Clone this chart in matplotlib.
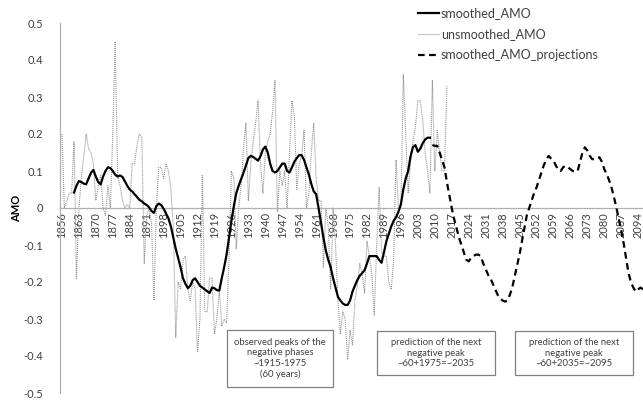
import matplotlib
matplotlib.use("Agg")
import matplotlib.pyplot as plt
from matplotlib.patches import Rectangle
import numpy as np

plt.rcParams['font.family'] = ['Lato', 'DejaVu Sans']

# ---- data -------------------------------------------------------------
unsmoothed_years = list(range(1856, 2016))
unsmoothed_amo = [
    0.20, 0.00, 0.02, 0.04, 0.04, 0.18, -0.19, 0.00, 0.08, 0.14,   # 1856-1865
    0.20, 0.16, 0.15, 0.12, 0.02, 0.06, 0.09, 0.00, -0.02, 0.06,   # 1866-1875
    0.00, 0.20, 0.45, 0.09, 0.06, 0.02, 0.00, 0.01, 0.00, 0.12,    # 1876-1885
    0.12, 0.17, 0.20, 0.19, -0.15, -0.02, 0.00, -0.04, -0.25, 0.00, # 1886-1895
    0.11, 0.11, 0.08, 0.12, 0.10, 0.05, -0.05, -0.35, -0.20, -0.22, # 1896-1905
    -0.14, -0.13, -0.22, -0.25, -0.20, -0.22, -0.39, -0.30, 0.09, -0.28,  # 1906-1915
    -0.28, -0.19, -0.19, -0.34, -0.30, -0.22, -0.32, -0.30, -0.31, -0.14, # 1916-1925
    0.10, 0.08, -0.11, 0.00, 0.06, 0.16, 0.23, 0.02, 0.12, 0.18,   # 1926-1935
    0.23, 0.29, 0.12, 0.04, 0.15, 0.18, 0.20, 0.26, 0.345, -0.01,  # 1936-1945
    0.10, 0.06, 0.10, 0.00, 0.15, 0.29, 0.25, 0.05, 0.12, 0.14,    # 1946-1955
    0.21, 0.00, 0.04, 0.15, 0.23, 0.08, 0.02, 0.02, -0.16, 0.00,   # 1956-1965
    -0.05, -0.22, 0.00, -0.10, -0.25, -0.34, -0.28, -0.30, -0.41, -0.33,  # 1966-1975
    -0.37, -0.25, -0.21, -0.15, -0.18, -0.23, -0.09, -0.13, -0.18, -0.29, # 1976-1985
    -0.10, 0.055, -0.12, -0.13, -0.13, -0.20, -0.22, -0.14, 0.13, 0.00,   # 1986-1995
    0.00, 0.36, 0.20, 0.04, 0.13, 0.18, 0.22, 0.29, 0.29, 0.24,    # 1996-2005
    0.15, 0.10, 0.04, 0.345, 0.10, 0.21, 0.15, 0.10, 0.10, 0.33,   # 2006-2015
]

smoothed_years = list(range(1861, 2009))
smoothed_amo = [
    0.042, 0.060, 0.073, 0.070, 0.066, 0.064, 0.080, 0.095, 0.103,          # 1861-1869
    0.085, 0.070, 0.064, 0.085, 0.100, 0.110, 0.108, 0.100, 0.090, 0.085,   # 1870-1879
    0.088, 0.084, 0.072, 0.060, 0.050, 0.045, 0.037, 0.030, 0.022, 0.018,   # 1880-1889
    0.012, 0.008, 0.002, -0.008, -0.013, 0.005, 0.012, 0.008, -0.002, -0.015,  # 1890-1899
    -0.028, -0.050, -0.080, -0.110, -0.135, -0.160, -0.190, -0.205, -0.217, -0.210,  # 1900-1909
    -0.195, -0.190, -0.200, -0.210, -0.215, -0.220, -0.225, -0.230, -0.215, -0.217,  # 1910-1919
    -0.222, -0.223, -0.190, -0.160, -0.126, -0.080, -0.035, 0.005, 0.040, 0.060,     # 1920-1929
    0.078, 0.095, 0.115, 0.135, 0.141, 0.138, 0.133, 0.128, 0.140, 0.158,   # 1930-1939
    0.166, 0.150, 0.120, 0.100, 0.096, 0.100, 0.110, 0.120, 0.120, 0.100,   # 1940-1949
    0.096, 0.110, 0.125, 0.135, 0.143, 0.143, 0.130, 0.110, 0.090, 0.065,   # 1950-1959
    0.045, 0.037, 0.000, -0.040, -0.080, -0.115, -0.140, -0.160, -0.190, -0.215,     # 1960-1969
    -0.240, -0.250, -0.258, -0.262, -0.262, -0.250, -0.226, -0.210, -0.195, -0.183,  # 1970-1979
    -0.176, -0.168, -0.150, -0.130, -0.130, -0.130, -0.130, -0.140, -0.148, -0.120,  # 1980-1989
    -0.090, -0.070, -0.050, -0.035, -0.025, -0.010, 0.010, 0.050, 0.080, 0.100,      # 1990-1999
    0.140, 0.165, 0.170, 0.152, 0.160, 0.175, 0.185, 0.190, 0.190,           # 2000-2008
]

projection_years = list(range(2009, 2097))
projection_amo = [
    0.170, 0.168, 0.168, 0.150, 0.130, 0.110, 0.070, 0.035, 0.000, -0.030, -0.055,  # 2009-2019
    -0.080, -0.100, -0.120, -0.140, -0.144, -0.135, -0.130, -0.126, -0.126, -0.130,  # 2020-2029
    -0.150, -0.165, -0.180, -0.190, -0.205, -0.220, -0.235, -0.244, -0.250, -0.253,  # 2030-2039
    -0.250, -0.235, -0.215, -0.185, -0.155, -0.126, -0.090, -0.055, -0.020, 0.000,   # 2040-2049
    0.020, 0.040, 0.055, 0.075, 0.095, 0.115, 0.130, 0.141, 0.134, 0.128,   # 2050-2059
    0.115, 0.103, 0.100, 0.110, 0.114, 0.110, 0.105, 0.100, 0.098, 0.100,   # 2060-2069
    0.125, 0.150, 0.164, 0.155, 0.141, 0.132, 0.132, 0.135, 0.137, 0.125,   # 2070-2079
    0.105, 0.092, 0.075, 0.055, 0.030, 0.001, -0.030, -0.060, -0.095, -0.135,        # 2080-2089
    -0.175, -0.200, -0.215, -0.226, -0.220, -0.215, -0.220,                 # 2090-2096
]

tick_years = list(range(1856, 2095, 7))
y_ticks = [0.5, 0.4, 0.3, 0.2, 0.1, 0, -0.1, -0.2, -0.3, -0.4, -0.5]
y_tick_labels = ["0.5", "0.4", "0.3", "0.2", "0.1", "0", "-0.1", "-0.2", "-0.3", "-0.4", "-0.5"]

box_texts = [
    "observed peaks of the\nnegative phases\n~1915-1975\n(60 years)",
    "prediction of the next\nnegative peak\n~60+1975=~2035",
    "prediction of the next\nnegative peak\n~60+2035=~2095",
]

# ---- figure -----------------------------------------------------------
W, H = 643, 401
fig = plt.figure(figsize=(W / 100, H / 100), dpi=100)
ax = fig.add_axes([60 / W, 1 - 393 / H, 583 / W, 370 / H])

text_col = "#404040"
axis_col = "#b0b0b0"

ax.plot(unsmoothed_years, unsmoothed_amo, color="#999999", lw=0.8,
        linestyle=(0, (1, 0.8)), label="unsmoothed_AMO", zorder=2)
ax.plot(smoothed_years, smoothed_amo, color="black", lw=1.6,
        label="smoothed_AMO", zorder=3)
ax.plot(projection_years, projection_amo, color="black", lw=1.6,
        linestyle=(0, (3, 2)), label="smoothed_AMO_projections", zorder=3)

ax.set_xlim(1855.2, 2096.0)
ax.set_ylim(-0.5, 0.5)

for s in ("top", "right"):
    ax.spines[s].set_visible(False)
ax.spines["left"].set_color(axis_col)
ax.spines["left"].set_linewidth(0.9)
ax.spines["bottom"].set_position(("data", 0))
ax.spines["bottom"].set_color(axis_col)
ax.spines["bottom"].set_linewidth(0.9)

ax.set_xticks(tick_years)
ax.set_xticklabels([str(y) for y in tick_years], rotation=90)
ax.tick_params(axis="x", length=0, pad=3, labelsize=8, labelcolor=text_col)
ax.set_yticks(y_ticks)
ax.set_yticklabels(y_tick_labels)
ax.tick_params(axis="y", length=0, pad=12, labelsize=8, labelcolor=text_col)

fig.text(17 / W, 1 - 208 / H, "AMO", rotation=90, ha="center", va="center",
         fontsize=8, fontweight="bold", color="black")

# legend, reordered as drawn in the key
handles, labels = ax.get_legend_handles_labels()
order = [1, 0, 2]
leg = fig.legend([handles[i] for i in order], [labels[i] for i in order],
                 loc="upper left", bbox_to_anchor=(418 / W, 1 - 7 / H),
                 frameon=False, fontsize=9, handlelength=1.7,
                 handletextpad=0.12, labelspacing=0.72, borderpad=0,
                 borderaxespad=0)
for t in leg.get_texts():
    t.set_color(text_col)

# annotation boxes (pixel geometry: left, top, width, height)
boxes = [(227, 330, 106, 57), (377, 331, 118, 44), (515, 331, 118, 44)]
for (bx, by, bw, bh), txt in zip(boxes, box_texts):
    fig.patches.append(Rectangle((bx / W, 1 - (by + bh) / H), bw / W, bh / H,
                                 transform=fig.transFigure, facecolor="white",
                                 edgecolor="#808080", lw=0.9, zorder=5))
    fig.text((bx + bw / 2) / W, 1 - (by + bh / 2) / H, txt, ha="center",
             va="center", fontsize=6.8, color=text_col, linespacing=1.25,
             zorder=6)

fig.savefig("out.png", dpi=100)
